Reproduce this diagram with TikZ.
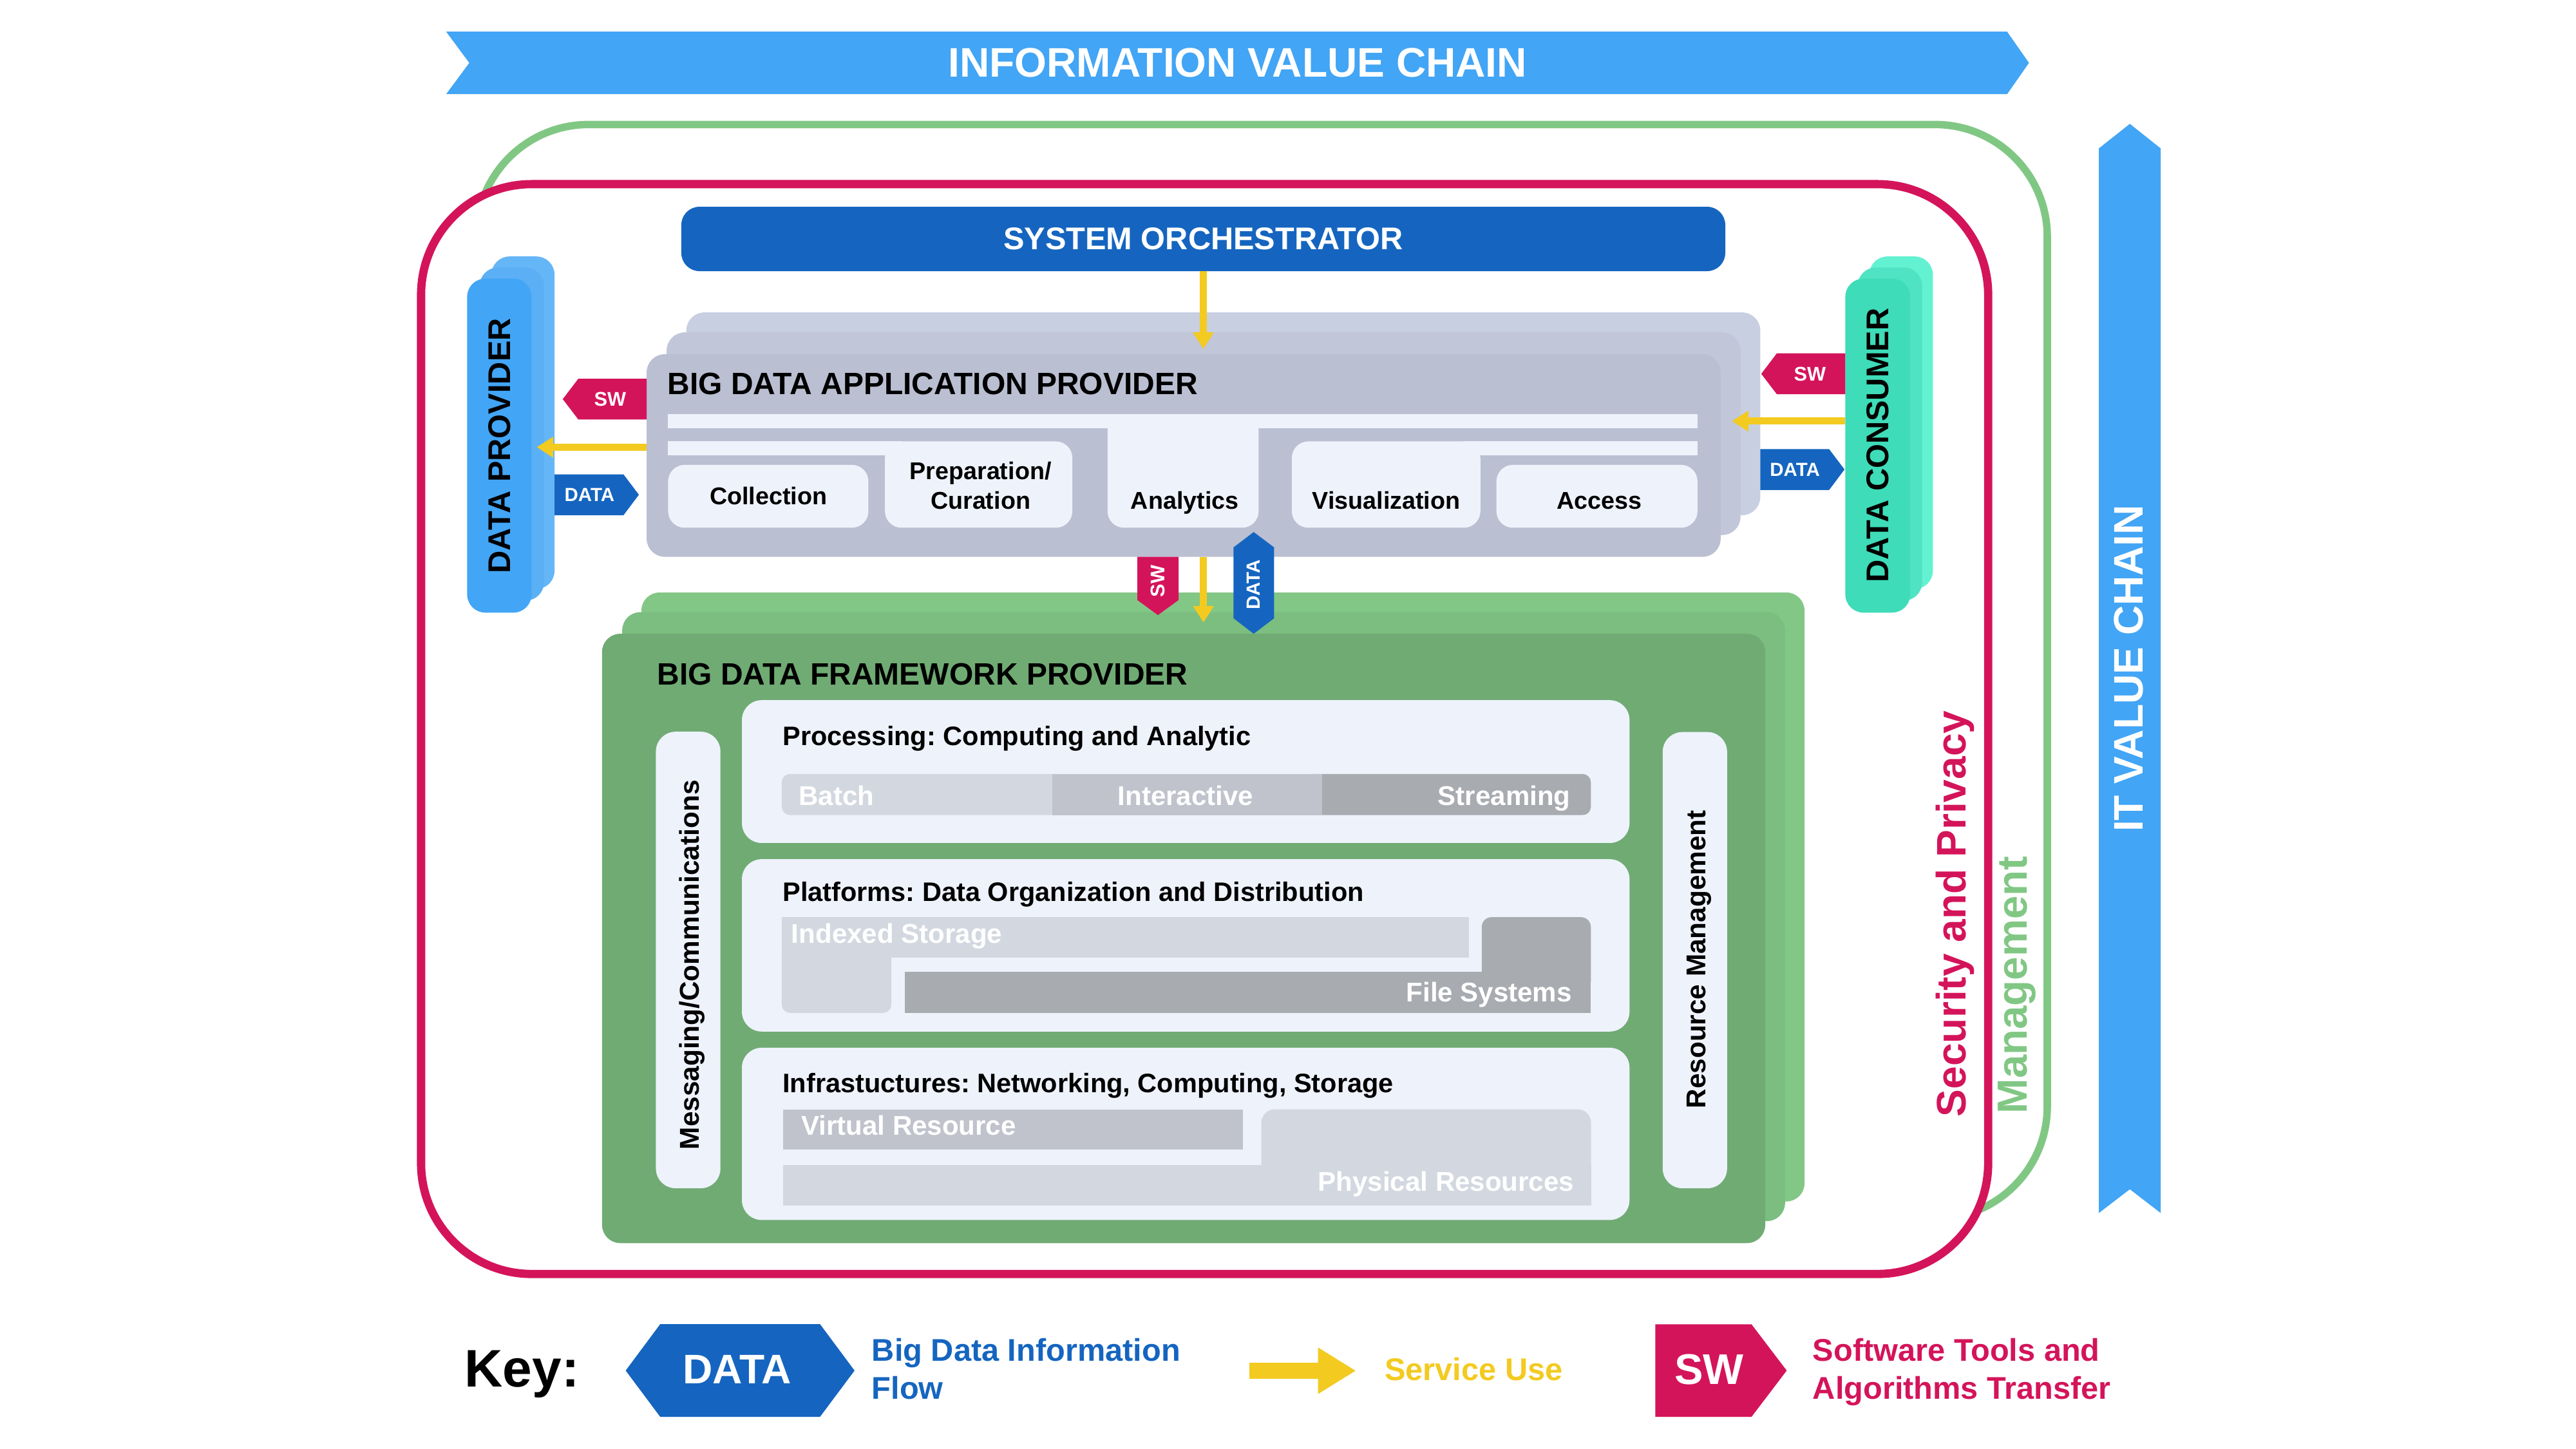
\documentclass[tikz,border=0pt]{standalone}
\usepackage{fontspec}
\setmainfont{Liberation Sans}
\usetikzlibrary{arrows.meta}
\frenchspacing
\definecolor{ivcblue}{HTML}{42A5F5}
\definecolor{navy}{HTML}{1565C0}
\definecolor{mag}{HTML}{D4145A}
\definecolor{syel}{HTML}{F3CA20}
\definecolor{mgreen}{HTML}{81C784}
\definecolor{panel}{HTML}{EEF2FB}
\definecolor{appA}{HTML}{BABFD2}
\definecolor{appB}{HTML}{C1C6D9}
\definecolor{appC}{HTML}{C7CFE1}
\definecolor{fwA}{HTML}{70AB74}
\definecolor{fwB}{HTML}{7BBE7F}
\definecolor{fwC}{HTML}{82C786}
\definecolor{dpA}{HTML}{42A5F5}
\definecolor{dpB}{HTML}{5BAFF5}
\definecolor{dpC}{HTML}{65B6F6}
\definecolor{dcA}{HTML}{3EDCB8}
\definecolor{dcB}{HTML}{4FE3C3}
\definecolor{dcC}{HTML}{63F2D1}
\definecolor{grL}{HTML}{D3D8E0}
\definecolor{grM}{HTML}{C0C3CC}
\definecolor{grD}{HTML}{A8ABB0}
\newcommand\fsz[1]{\fontsize{#1}{#1}\selectfont\bfseries\frenchspacing}
\tikzset{
  txt/.style={inner sep=0pt, outer sep=0pt},
  blk/.style={inner sep=0pt, outer sep=0pt, draw=none, rounded corners=11pt},
  pbox/.style={inner sep=0pt, outer sep=0pt, draw=none, fill=panel, rounded corners=12pt},
  yarr/.style={draw=syel, line width=4.2pt, -{Triangle[length=10pt,width=12pt]}},
  tagtxt/.style={txt, text=white, font=\fsz{12}},
  bartxt/.style={txt, text=white, font=\fsz{16.4}},
  subttl/.style={txt, font=\fsz{16.2}, anchor=base west},
  modtxt/.style={txt, font=\fsz{14.7}, anchor=base},
}
\begin{document}
\begin{tikzpicture}[x=1pt,y=-1pt]
\fill[white] (0,0) rectangle (1560,877.5);
\useasboundingbox (0,0) rectangle (1560,877.5);

% top banner
\fill[ivcblue] (270.2,19.2) -- (1215.5,19.2) -- (1228.7,38.1) -- (1215.5,57) -- (270.2,57) -- (284.2,38.1) -- cycle;
\node[txt, text=white, font=\fsz{25}] (ivc) at (749.5,38.1) {INFORMATION VALUE CHAIN};

% IT value chain banner
\fill[ivcblue] (1271,89.9) -- (1289.8,75) -- (1308.5,89.9) -- (1308.5,734.6) -- (1289.8,720.2) -- (1271,734.6) -- cycle;
\node[txt, text=white, font=\fsz{25}, rotate=90, anchor=base] (itvc) at (1297.8,404.8) {IT VALUE CHAIN};

% management and security outlines
\draw[mgreen, line width=4.5pt, rounded corners=68pt] (288.5,75.4) rectangle (1239.8,738);
\draw[mag, line width=5pt, fill=white, rounded corners=67pt] (255,111.5) rectangle (1204,771.5);
\node[txt, text=mag, font=\fsz{25}, rotate=90, anchor=base] (secp) at (1190.4,553.3) {Security and Privacy};
\node[txt, text=mgreen, font=\fsz{25.5}, rotate=90, anchor=base] (mgmt) at (1227.7,596.5) {Management};

% system orchestrator
\node[blk, fill=navy, minimum width=632.2pt, minimum height=39pt, text=white, font=\fsz{19}] (orch) at (728.7,144.7) {SYSTEM ORCHESTRATOR};

% data provider
\node[blk, fill=dpC, minimum width=38.2pt, minimum height=201.4pt] (dpback) at (316.7,256) {};
\node[blk, fill=dpB, minimum width=38.9pt, minimum height=201.7pt] (dpmid) at (309.95,262.85) {};
\node[blk, fill=dpA, minimum width=39pt, minimum height=202.3pt] (dpfront) at (302.4,269.85) {};
\node[txt, font=\fsz{19}, rotate=90, anchor=base] (dptext) at (308.9,270) {DATA PROVIDER};

% data consumer
\node[blk, fill=dcC, minimum width=38.5pt, minimum height=201.4pt] (dcback) at (1151.25,256) {};
\node[blk, fill=dcB, minimum width=39pt, minimum height=201.7pt] (dcmid) at (1144.5,262.85) {};
\node[blk, fill=dcA, minimum width=39.3pt, minimum height=202.3pt] (dcfront) at (1137.15,269.85) {};
\node[txt, font=\fsz{19}, rotate=90, anchor=base] (dctext) at (1143.5,269.7) {DATA CONSUMER};

% application provider
\node[blk, fill=appC, minimum width=650.4pt, minimum height=122.8pt] (appback) at (740.8,250.6) {};
\node[blk, fill=appB, minimum width=650.3pt, minimum height=122.7pt] (appmid) at (728.85,262.65) {};
\node[blk, fill=appA, minimum width=650.4pt, minimum height=122.7pt] (appfront) at (716.8,275.85) {};
\node[txt, font=\fsz{18.7}, anchor=base west] (apptitle) at (404.3,238.9) {BIG DATA APPLICATION PROVIDER};
\fill[panel, rounded corners=10pt] (670.7,250.9) rectangle (762.2,319.6);
\fill[panel] (404.6,250.9) rectangle (1028,259.5);
\fill[panel, rounded corners=10pt] (535.9,267.3) rectangle (649.4,319.6);
\fill[panel] (404.6,267.3) rectangle (546,275.9);
\fill[panel, rounded corners=10pt] (782.3,267.3) rectangle (896.5,319.6);
\fill[panel] (886,267.3) rectangle (1028,275.9);
\fill[panel, rounded corners=10pt] (404.6,281.5) rectangle (525.9,319.6);
\fill[panel, rounded corners=10pt] (906.2,281.5) rectangle (1028,319.6);
\node[modtxt] (coll) at (465.3,305.4) {Collection};
\node[modtxt] (prep1) at (593.8,290.4) {Preparation/};
\node[modtxt] (prep2) at (593.8,308.3) {Curation};
\node[modtxt] (anal) at (717.5,308.3) {Analytics};
\node[modtxt] (visu) at (839.5,308.3) {Visualization};
\node[modtxt] (acc) at (968.5,308.3) {Access};

% framework provider
\node[blk, fill=fwC, minimum width=704.4pt, minimum height=368.8pt] (fwback) at (740.6,543.2) {};
\node[blk, fill=fwB, minimum width=704.2pt, minimum height=368.8pt] (fwmid) at (728.9,555.1) {};
\node[blk, fill=fwA, minimum width=704.4pt, minimum height=369pt] (fwfront) at (716.8,568.3) {};
\node[txt, font=\fsz{18.7}, anchor=base west] (fwtitle) at (398,414.9) {BIG DATA FRAMEWORK PROVIDER};

\node[pbox, minimum width=39.1pt, minimum height=276.5pt] (msg) at (416.75,581.35) {};
\node[txt, font=\fsz{16.5}, rotate=90, anchor=base] (msgtxt) at (423.3,584.3) {Messaging/Communications};
\node[pbox, minimum width=39pt, minimum height=276.3pt] (res) at (1026.4,581.45) {};
\node[txt, font=\fsz{16.5}, rotate=90, anchor=base] (restxt) at (1033,581) {Resource Management};

\node[pbox, minimum width=537.5pt, minimum height=86.5pt] (proc) at (718.05,467.25) {};
\node[pbox, minimum width=537.5pt, minimum height=104.4pt] (plat) at (718.05,572.5) {};
\node[pbox, minimum width=537.5pt, minimum height=104.3pt] (infra) at (718.05,686.65) {};

\node[subttl] (proctxt) at (474,451.3) {Processing: Computing and Analytic};
\fill[grL, rounded corners=5pt] (473.4,468.7) rectangle (647,493.6);
\fill[grD, rounded corners=5pt] (790,468.7) rectangle (963.4,493.6);
\fill[grM] (637.1,468.7) rectangle (800.5,493.6);
\node[bartxt, anchor=base west] (batch) at (483.7,487.5) {Batch};
\node[bartxt, anchor=base] (inter) at (718,487.5) {Interactive};
\node[bartxt, anchor=base east] (stream) at (951,487.5) {Streaming};

\node[subttl] (plattxt) at (474,545.9) {Platforms: Data Organization and Distribution};
\fill[grL] (473.4,555.4) rectangle (889.6,579.8);
\fill[grL, rounded corners=5pt] (473.4,570) rectangle (539.8,613.4);
\fill[grD, rounded corners=6pt] (897.3,555.4) rectangle (963.4,600);
\fill[grD] (547.8,588.5) rectangle (963.4,613.4);
\node[bartxt, anchor=base west] (idx) at (479.3,571) {Indexed Storage};
\node[bartxt, anchor=base east] (fsys) at (951.9,606.6) {File Systems};

\node[subttl] (infratxt) at (474,661.5) {Infrastuctures: Networking, Computing, Storage};
\fill[grM] (474.1,671.8) rectangle (752.6,696);
\fill[grL, rounded corners=8pt] (763.9,671.8) rectangle (963.5,715);
\fill[grL] (474.1,705.4) rectangle (963.5,730);
\node[bartxt, anchor=base west] (virt) at (485.3,687.5) {Virtual Resource};
\node[bartxt, anchor=base east] (phys) at (953.2,721.4) {Physical Resources};

% tags
\fill[mag] (391.6,229.4) -- (350.2,229.4) -- (340.8,241.7) -- (350.2,254) -- (391.6,254) -- cycle;
\node[tagtxt] (swl) at (369.5,241.7) {SW};
\fill[navy] (335.8,287.3) -- (377.6,287.3) -- (386.9,299.6) -- (377.6,312) -- (335.8,312) -- cycle;
\node[tagtxt, font=\fsz{11.5}] (datal) at (357,299.6) {DATA};
\fill[mag] (1117.5,214) -- (1076,214) -- (1066.6,226.4) -- (1076,238.7) -- (1117.5,238.7) -- cycle;
\node[tagtxt] (swr) at (1096,226.4) {SW};
\fill[navy] (1066,272) -- (1107.7,272) -- (1117,284.3) -- (1107.7,296.7) -- (1066,296.7) -- cycle;
\node[tagtxt, font=\fsz{11.5}] (datar) at (1087,284.3) {DATA};
\fill[mag] (688.8,337.2) -- (713.7,337.2) -- (713.7,363.4) -- (701.2,372.5) -- (688.8,363.4) -- cycle;
\node[tagtxt, rotate=90] (swd) at (701.2,352) {SW};
\fill[navy] (759.2,322.2) -- (771.6,331.5) -- (771.6,374.4) -- (759.2,383.8) -- (747,374.4) -- (747,331.5) -- cycle;
\node[tagtxt, font=\fsz{11.5}, rotate=90] (datad) at (759.2,354) {DATA};

% service use arrows
\coordinate (tipA) at (728.7,211.3);
\draw[yarr] (orch) -- (tipA);
\coordinate (tipL) at (325,270.8);
\draw[yarr] (appfront.west |- tipL) -- (tipL);
\coordinate (tipR) at (1048.8,255);
\draw[yarr] (dcfront.west |- tipR) -- (tipR);
\coordinate (tipD) at (728.8,377);
\draw[yarr] (appfront.south -| tipD) -- (tipD);

% key
\node[txt, font=\fsz{32}, anchor=base west] (key) at (281.4,840) {Key:};
\fill[navy] (399.8,801.9) -- (496.6,801.9) -- (517.5,830) -- (496.6,858) -- (399.8,858) -- (378.9,830) -- cycle;
\node[txt, text=white, font=\fsz{25}] (kdata) at (446.5,829.5) {DATA};
\node[txt, text=navy, font=\fsz{19}, anchor=base west] (kd1) at (528,824.2) {Big Data Information};
\node[txt, text=navy, font=\fsz{19}, anchor=base west] (kd2) at (528,847.4) {Flow};
\coordinate (ka1) at (756.4,830.1);
\coordinate (ka2) at (821.2,830.1);
\draw[draw=syel, line width=9.6pt, -{Triangle[length=23pt,width=26.4pt]}] (ka1) -- (ka2);
\node[txt, text=syel, font=\fsz{19}, anchor=base west] (ksu) at (838.6,836) {Service Use};
\fill[mag] (1002.4,802) -- (1060.7,802) -- (1082,830) -- (1060.7,858) -- (1002.4,858) -- cycle;
\node[txt, text=white, font=\fsz{26}] (ksw) at (1035,829.3) {SW};
\node[txt, text=mag, font=\fsz{19}, anchor=base west] (ks1) at (1097.8,824.2) {Software Tools and};
\node[txt, text=mag, font=\fsz{19}, anchor=base west] (ks2) at (1097.8,847.4) {Algorithms Transfer};
\end{tikzpicture}
\end{document}
